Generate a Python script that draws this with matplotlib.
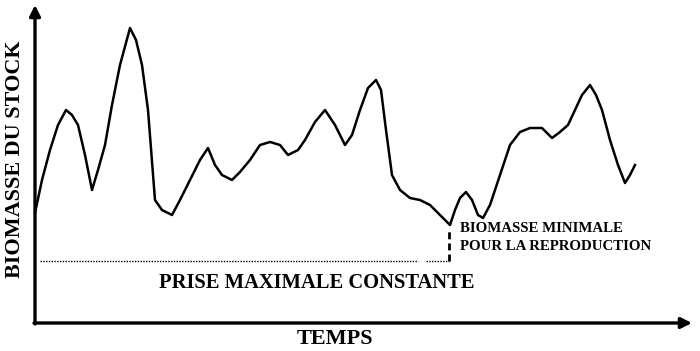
import numpy as np
import matplotlib.pyplot as plt

# stock biomass through time (arbitrary units)
temps = [35, 42, 50, 58, 66, 72, 78, 85, 92, 98, 105, 112, 120, 130, 136, 142,
         148, 155, 162, 172, 180, 190, 200, 208, 215, 222, 232, 240, 250, 260,
         270, 280, 288, 298, 305, 315, 325, 335, 345, 352, 360, 368, 376, 381,
         386, 392, 400, 410, 420, 430, 440, 450, 455, 460, 466, 472, 478, 483,
         490, 500, 510, 520, 530, 542, 552, 560, 568, 575, 582, 590, 596, 602,
         610, 618, 625, 630, 635]
y_px = [213, 180, 150, 125, 110, 115, 125, 155, 190, 170, 145, 105, 65, 28, 40, 65,
        110, 200, 210, 215, 200, 180, 160, 148, 165, 175, 180, 172, 160, 145,
        142, 145, 155, 150, 140, 122, 110, 125, 145, 135, 110, 88, 80, 90,
        130, 175, 190, 198, 200, 205, 215, 225, 210, 198, 192, 200, 215, 218,
        205, 175, 145, 132, 128, 128, 138, 132, 125, 110, 95, 85, 95, 110,
        140, 165, 183, 175, 165]
biomasse = [351 - v for v in y_px]

prise_max = 351 - 261      # constant catch level
t_min, b_min = 449, 351 - 226  # minimum biomass point

plt.rcParams['font.family'] = ['Liberation Serif', 'DejaVu Serif']

fig = plt.figure(figsize=(7, 3.51), dpi=100)
ax = fig.add_axes([0, 0, 1, 1])
ax.set_xlim(0, 700)
ax.set_ylim(0, 351)
ax.axis('off')

# axes with arrows
ax.annotate('', xy=(35, 346), xytext=(35, 27),
            arrowprops=dict(arrowstyle='-|>', lw=2.4, color='black',
                            mutation_scale=16, shrinkA=0, shrinkB=0))
ax.annotate('', xy=(692, 28), xytext=(34, 28),
            arrowprops=dict(arrowstyle='-|>', lw=2.4, color='black',
                            mutation_scale=16, shrinkA=0, shrinkB=0))

# curve
ax.plot(temps, biomasse, color='black', lw=1.8, solid_joinstyle='round')

# constant maximal catch (dotted)
ax.plot([40, 418], [prise_max, prise_max], color='black', lw=1.0, ls=(0, (1, 1)))
ax.plot([426, 449], [prise_max, prise_max], color='black', lw=1.0, ls=(0, (1, 1)))

# minimum biomass marker
ax.plot([t_min, t_min], [prise_max, b_min - 2], color='black', lw=2.0, ls=(0, (2.5, 1.5)))

bold = dict(fontweight='bold', color='black')
ax.text(460, 351 - 228, 'BIOMASSE MINIMALE', fontsize=10.7, ha='left', va='center', **bold)
ax.text(460, 351 - 246, 'POUR LA REPRODUCTION', fontsize=10.7, ha='left', va='center', **bold)
ax.text(317, 351 - 283, 'PRISE MAXIMALE CONSTANTE', fontsize=14.8, ha='center', va='center', **bold)
ax.text(335, 351 - 339, 'TEMPS', fontsize=16, ha='center', va='center', **bold)
ax.text(15, 351 - 159, 'BIOMASSE DU STOCK', fontsize=15.9, rotation=90,
        ha='center', va='center', **bold)

fig.savefig('out.png', dpi=100)
